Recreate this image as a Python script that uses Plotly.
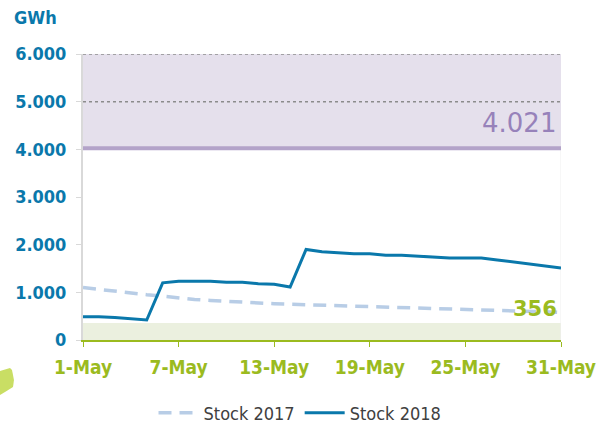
import pandas as pd
import plotly.graph_objects as go

# Daily stock levels for May (GWh)
days = pd.date_range("2018-05-01", "2018-05-31", freq="D")
stock_2017 = [1100, 1060, 1020, 980, 950, 920, 880, 850, 830, 810, 790,
              780, 760, 750, 740, 735, 730, 720, 710, 700, 690, 670,
              660, 650, 640, 630, 620, 610, 600, 590, 580]
stock_2018 = [490, 490, 470, 445, 420, 1200, 1230, 1230, 1230, 1210, 1210,
              1180, 1170, 1110, 1900, 1850, 1830, 1810, 1810, 1780, 1780, 1760,
              1750, 1720, 1720, 1720, 1680, 1640, 1600, 1560, 1510]

# Reference levels
capacity_level = 4021
capacity_top = 6000
minimum_level = 356

tick_dates = ["2018-05-01", "2018-05-07", "2018-05-13", "2018-05-19",
              "2018-05-25", "2018-05-31"]
tick_labels = ["1-May", "7-May", "13-May", "19-May", "25-May", "31-May"]
y_ticks = [0, 1000, 2000, 3000, 4000, 5000, 6000]

BLUE = "#0a78ab"
LIGHT_BLUE = "#b8cde6"
GREEN = "#9bbb1f"
PURPLE = "#b3a3c9"
FONT = "DejaVu Sans Condensed, DejaVu Sans, sans-serif"

W, H = 600, 424
ML, MR, MT, MB = 83, 39, 54, 84
PW, PH = W - ML - MR, H - MT - MB


def to_paper(px, py):
    return (px - ML) / PW, (H - MB - py) / PH


fig = go.Figure()
fig.add_trace(go.Scatter(
    x=days, y=stock_2017, mode="lines", name="Stock 2017",
    line=dict(color=LIGHT_BLUE, width=3.5, dash="13px,8px"),
))
fig.add_trace(go.Scatter(
    x=days, y=stock_2018, mode="lines", name="Stock 2018",
    line=dict(color=BLUE, width=3),
))

x0, x1 = days[0], days[-1]
shapes = [
    dict(type="rect", xref="x", yref="y", x0=x0, x1=x1, y0=capacity_level,
         y1=capacity_top, fillcolor="#e5e0ec", line_width=0, layer="below"),
    dict(type="rect", xref="x", yref="y", x0=x0, x1=x1, y0=0,
         y1=minimum_level, fillcolor="#ebf0df", line_width=0, layer="below"),
    dict(type="line", xref="x", yref="y", x0=x1, x1=x1, y0=0,
         y1=capacity_level, line=dict(color="#eeeeee", width=1), layer="below"),
    dict(type="line", xref="x", yref="y", x0=x0, x1=x1, y0=5000, y1=5000,
         line=dict(color="#8c8c8c", width=1.5, dash="dot"), layer="below"),
    dict(type="line", xref="x", yref="y", x0=x0, x1=x1, y0=6000, y1=6000,
         line=dict(color="#8c8c8c", width=1.5, dash="dot"), layer="below"),
    dict(type="line", xref="x", yref="y", x0=x0, x1=x1, y0=capacity_level,
         y1=capacity_level, line=dict(color=PURPLE, width=4), layer="below"),
]

# small leaf-shaped decoration at the lower-left edge
blob_px = [(0, 371), (10, 368), (12, 370), (14, 380), (13, 387), (5, 392), (0, 395)]
pts = [to_paper(px, py) for px, py in blob_px]
path = "M " + " L ".join(f"{x:.4f},{y:.4f}" for x, y in pts) + " Z"
shapes.append(dict(type="path", xref="paper", yref="paper", path=path,
                   fillcolor="#c9de64", line_width=0))

gx, gy = to_paper(12, 17)
annotations = [
    dict(text="GWh", xref="paper", yref="paper", x=gx, y=gy, xanchor="left",
         yanchor="middle", showarrow=False,
         font=dict(family=FONT, size=18, color=BLUE, weight="bold")),
    dict(text=f"{capacity_level:,}".replace(",", "."), xref="paper", yref="y",
         x=to_paper(558, 0)[0], y=4560, xanchor="right", yanchor="middle",
         showarrow=False,
         font=dict(family="DejaVu Sans, sans-serif", size=26, color="#9782ba")),
    dict(text=str(minimum_level), xref="paper", yref="y",
         x=to_paper(559, 0)[0], y=640, xanchor="right", yanchor="middle",
         showarrow=False,
         font=dict(family="DejaVu Sans, sans-serif", size=21, color=GREEN,
                   weight="bold")),
]

fig.update_layout(
    width=W, height=H,
    margin=dict(l=ML, r=MR, t=MT, b=MB, autoexpand=False),
    paper_bgcolor="white", plot_bgcolor="white",
    separators=",.",
    shapes=shapes, annotations=annotations,
    showlegend=True,
    legend=dict(orientation="h", x=0.5, xanchor="center",
                xref="container", yref="container", y=(H - 413) / H,
                yanchor="middle", font=dict(family=FONT, size=18,
                                            color="#404040"),
                itemwidth=40, tracegroupgap=0),
    xaxis=dict(
        type="date", range=[x0, x1], tickvals=tick_dates, ticktext=tick_labels,
        showgrid=False, zeroline=False, showline=True, linecolor=GREEN,
        linewidth=2, ticks="outside", ticklen=5, tickcolor=GREEN, tickwidth=1,
        tickfont=dict(family=FONT, size=19, color=GREEN, weight="bold"),
        ticklabelstandoff=4, automargin=False,
    ),
    yaxis=dict(
        range=[0, 6000], tickvals=y_ticks, tickformat=",d",
        showgrid=False, zeroline=False, showline=True, linecolor="#d9d9d9",
        linewidth=2, ticks="outside", ticklen=5, tickcolor="#d9d9d9",
        tickfont=dict(family=FONT, size=18, color=BLUE, weight="bold"),
        ticklabelstandoff=6, automargin=False,
    ),
)

fig.write_html("out.html")
